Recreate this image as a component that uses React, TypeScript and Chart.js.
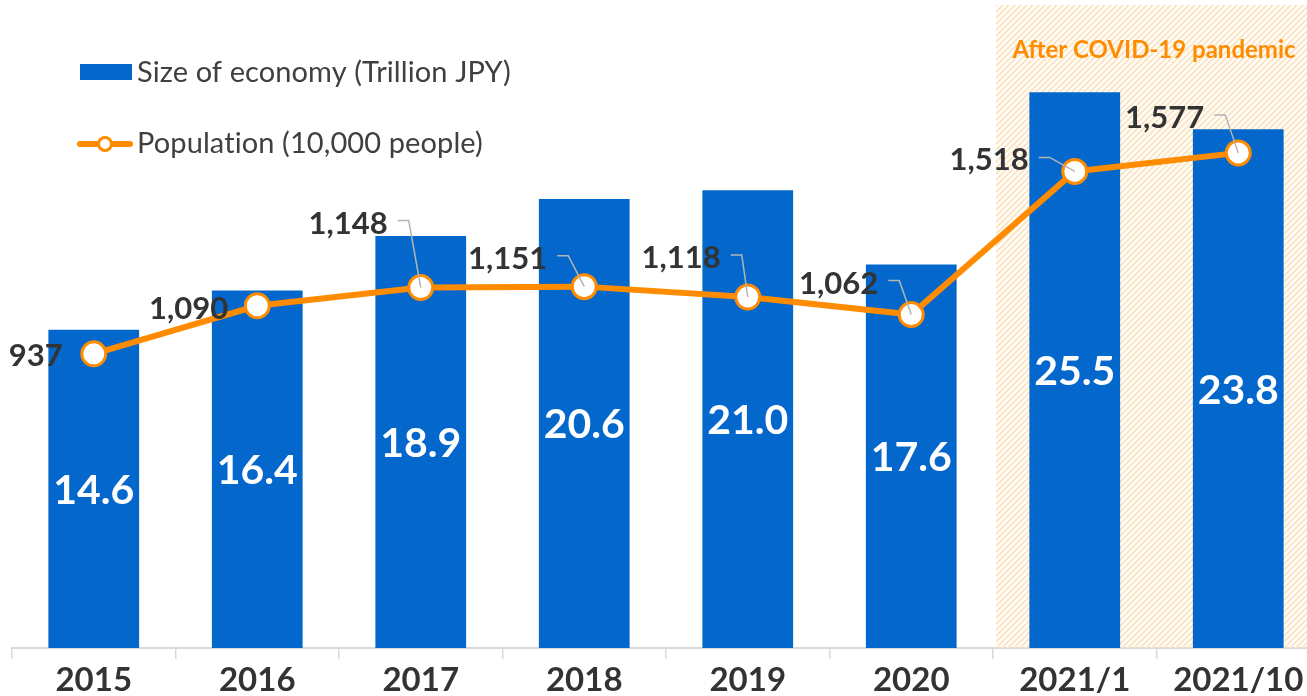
import React, { useEffect, useRef } from "react";
import { Chart, registerables } from "chart.js";
Chart.register(...registerables);

// ---- data ----
const categories = ["2015", "2016", "2017", "2018", "2019", "2020", "2021/1", "2021/10"];
const economySize = [14.6, 16.4, 18.9, 20.6, 21.0, 17.6, 25.5, 23.8];
const population = [937, 1090, 1148, 1151, 1118, 1062, 1518, 1577];
const economyLabel = "Size of economy (Trillion JPY)";
const populationLabel = "Population (10,000 people)";
const covidText = "After COVID-19 pandemic";
const covidStartIndex = 6;

// ---- styles ----
const BAR_COLOR = "#0467CC";
const LINE_COLOR = "#FF8C00";
const TEXT_COLOR = "#333333";
const LEADER_COLOR = "#b4b4b4";
const FONT = "Lato";
// population label placement: [dx of label right edge, dy of cap centre, leader]
const popLabelOffsets: [number, number, boolean][] = [
  [-31, 1, false],
  [-29, 2, false],
  [-33, -65, true],
  [-37, -29, true],
  [-27, -40, true],
  [-33, -32, true],
  [-46, -12, true],
  [-34, -36, true],
];

function makeHatch(ctx: CanvasRenderingContext2D) {
  const c = document.createElement("canvas");
  c.width = 6;
  c.height = 6;
  const g = c.getContext("2d")!;
  g.strokeStyle = "#fde5c3";
  g.lineWidth = 2;
  g.beginPath();
  g.moveTo(-1, 7);
  g.lineTo(7, -1);
  g.moveTo(-4, 4);
  g.lineTo(4, -4);
  g.moveTo(2, 10);
  g.lineTo(10, 2);
  g.stroke();
  return ctx.createPattern(c, "repeat")!;
}

const hatchPlugin = {
  id: "hatch",
  beforeDatasetsDraw(chart: any) {
    const { ctx, chartArea, scales } = chart;
    const x = scales.x;
    const left = (x.getPixelForValue(covidStartIndex - 1) + x.getPixelForValue(covidStartIndex)) / 2 + 3;
    ctx.save();
    ctx.fillStyle = makeHatch(ctx);
    ctx.fillRect(left, chartArea.top, chart.width - left, chartArea.bottom - chartArea.top);
    ctx.fillStyle = LINE_COLOR;
    ctx.font = `bold 24px ${FONT}`;
    ctx.textAlign = "center";
    ctx.textBaseline = "alphabetic";
    ctx.fillText(covidText, left + 158, chartArea.top + 53);
    ctx.restore();
  },
};

const labelsPlugin = {
  id: "valueLabels",
  afterDatasetsDraw(chart: any) {
    const { ctx } = chart;
    ctx.save();
    // bar labels
    const barMeta = chart.getDatasetMeta(0);
    ctx.fillStyle = "#ffffff";
    ctx.font = `bold 41px ${FONT}`;
    ctx.textAlign = "center";
    ctx.textBaseline = "alphabetic";
    barMeta.data.forEach((bar: any, i: number) => {
      const mid = (bar.y + bar.base) / 2;
      ctx.fillText(economySize[i].toFixed(1), bar.x, mid + 15);
    });
    // population labels
    const lineMeta = chart.getDatasetMeta(1);
    ctx.font = `bold 31px ${FONT}`;
    ctx.textAlign = "right";
    lineMeta.data.forEach((pt: any, i: number) => {
      const [dx, dy, leader] = popLabelOffsets[i];
      const rx = pt.x + dx;
      const cy = pt.y + dy;
      ctx.fillStyle = TEXT_COLOR;
      ctx.fillText(population[i].toLocaleString("en-US"), rx, cy + 11);
      if (leader) {
        ctx.strokeStyle = LEADER_COLOR;
        ctx.lineWidth = 1.5;
        ctx.beginPath();
        ctx.moveTo(rx + 10, cy - 2);
        ctx.lineTo(rx + 21, cy - 2);
        ctx.lineTo(pt.x, pt.y);
        ctx.stroke();
      }
    });
    ctx.restore();
  },
};

const legendPlugin = {
  id: "customLegend",
  afterDraw(chart: any) {
    const { ctx } = chart;
    ctx.save();
    ctx.fillStyle = BAR_COLOR;
    ctx.fillRect(80, 64, 52, 16);
    ctx.strokeStyle = LINE_COLOR;
    ctx.lineWidth = 6;
    ctx.lineCap = "round";
    ctx.beginPath();
    ctx.moveTo(80, 144);
    ctx.lineTo(130, 144);
    ctx.stroke();
    ctx.beginPath();
    ctx.arc(105, 144, 6.5, 0, Math.PI * 2);
    ctx.fillStyle = "#ffffff";
    ctx.fill();
    ctx.lineWidth = 3;
    ctx.stroke();
    ctx.fillStyle = "#404040";
    ctx.font = `29px ${FONT}`;
    (ctx as any).textRendering = "optimizeSpeed";
    (ctx as any).letterSpacing = "0.1px";
    ctx.textAlign = "left";
    ctx.textBaseline = "alphabetic";
    ctx.fillText(economyLabel, 137, 82);
    ctx.fillText(populationLabel, 137, 153);
    ctx.restore();
  },
};

export default function App() {
  const ref = useRef<HTMLCanvasElement | null>(null);
  useEffect(() => {
    if (!ref.current) return;
    const chart = new Chart(ref.current, {
      type: "bar",
      data: {
        labels: categories,
        datasets: [
          {
            type: "bar",
            label: economyLabel,
            data: economySize,
            backgroundColor: BAR_COLOR,
            barPercentage: 0.555,
            categoryPercentage: 1,
            yAxisID: "y",
            order: 2,
          },
          {
            type: "line",
            label: populationLabel,
            data: population,
            borderColor: LINE_COLOR,
            borderWidth: 6,
            pointRadius: 12,
            pointHoverRadius: 12,
            pointBorderWidth: 3,
            pointBackgroundColor: "#ffffff",
            pointBorderColor: LINE_COLOR,
            tension: 0,
            yAxisID: "y2",
            order: 1,
          } as any,
        ],
      },
      options: {
        responsive: false,
        animation: false,
        devicePixelRatio: 1,
        layout: { autoPadding: false, padding: { left: 12, right: 4, top: 5, bottom: 0 } },
        plugins: { legend: { display: false }, tooltip: { enabled: false } },
        scales: {
          x: {
            offset: true,
            grid: {
              display: true,
              drawOnChartArea: false,
              drawTicks: true,
              tickLength: 11,
              color: "#d9d9d9",
              lineWidth: 1.5,
              offset: true,
            },
            border: { display: true, color: "#d9d9d9", width: 2 },
            ticks: {
              color: TEXT_COLOR,
              font: { family: FONT, size: 33, weight: "bold" },
              padding: 2,
              maxRotation: 0,
              autoSkip: false,
            },
            afterFit: (scale: any) => {
              scale.height = 48;
            },
          },
          y: { display: false, min: 0, max: 29.5 },
          y2: { display: false, position: "right", min: 0, max: 2048 },
        },
      } as any,
      plugins: [hatchPlugin, labelsPlugin, legendPlugin],
    });
    return () => chart.destroy();
  }, []);
  return (
    <div style={{ position: "fixed", left: 0, top: 0, width: 1307, height: 696, overflow: "hidden", background: "#fff" }}>
      <canvas ref={ref} width={1324} height={696} style={{ display: "block", width: 1324, height: 696 }} />
    </div>
  );
}
